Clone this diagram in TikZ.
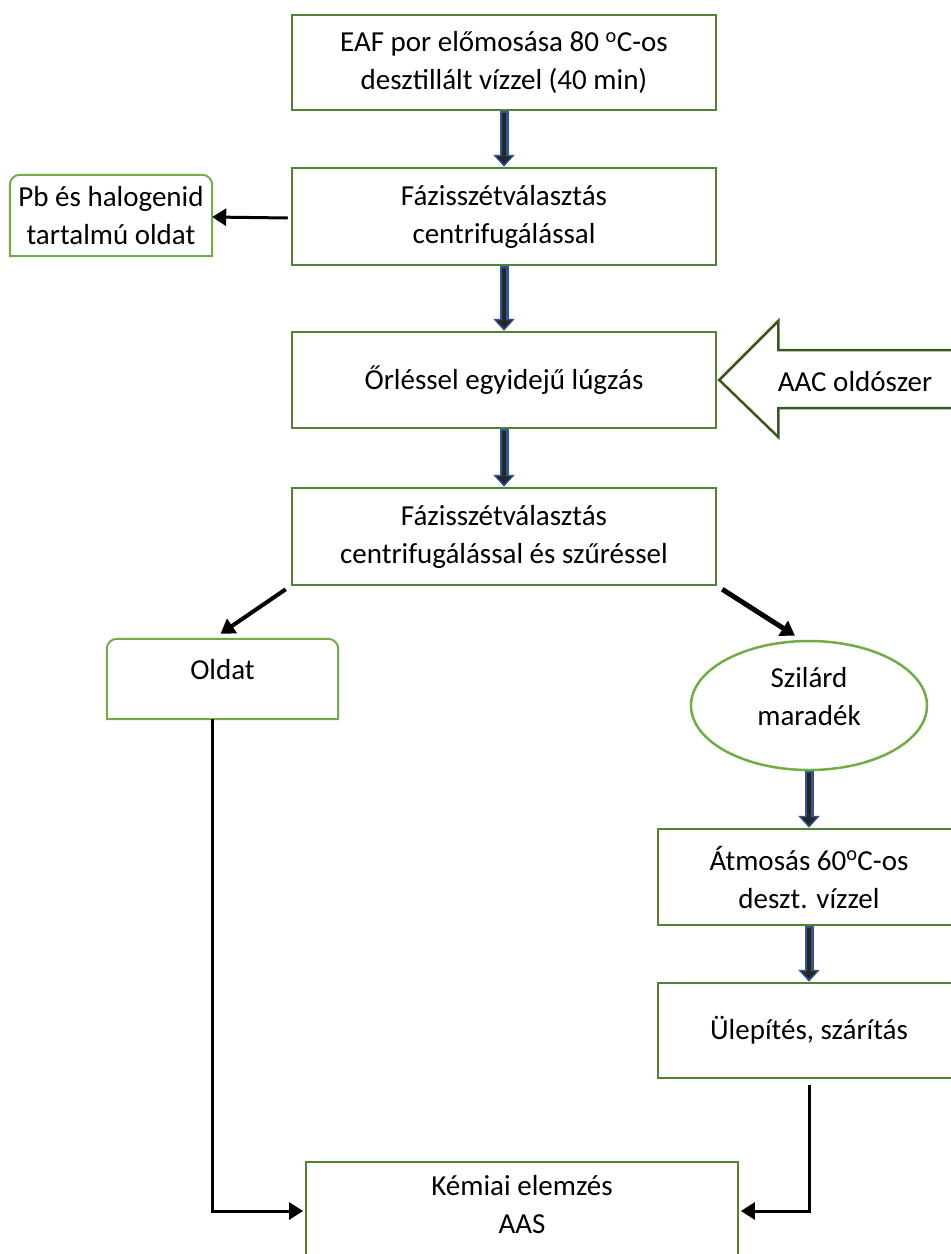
\documentclass[tikz,border=0pt]{standalone}
\usepackage{fontspec}
\setmainfont{Carlito}
\usetikzlibrary{arrows.meta,shapes.geometric}
\definecolor{boxgreen}{HTML}{548235}
\definecolor{lightgreen}{HTML}{70AD47}
\definecolor{darkgreen}{HTML}{385723}
\definecolor{arrowblue}{HTML}{2F5597}
\definecolor{arrowfill}{HTML}{262626}
\tikzset{
    stepbox/.style={draw=boxgreen, line width=2.5pt, align=center, inner sep=0pt},
    softbox/.style={align=center, inner sep=0pt},
    blockarrow/.style={draw=arrowfill, line width=4.5pt, shorten >=2.5pt, shorten <=1.5pt,
        -{Triangle[length=8pt,width=15pt]},
        preaction={draw=arrowblue, line width=9pt, shorten >=0pt, shorten <=0pt,
        -{Triangle[length=12pt,width=21pt]}}},
    blackarrow/.style={line width=3pt, -{Triangle[length=14pt,width=17pt]}}
}
\begin{document}
\begin{tikzpicture}[x=1pt,y=-1pt,font=\fontsize{29}{38}\selectfont]
    \useasboundingbox (0,0) rectangle (951,1254);
    \clip (0,0) rectangle (951,1254);
    %% main line
    \node[stepbox, minimum width=424pt, minimum height=95pt] (eaf) at (504,62.5)
        {EAF por előmosása 80 \textsuperscript{o}C-os\\desztillált vízzel (40 min)};
    \node[stepbox, minimum width=424pt, minimum height=97pt] (faz1) at (504,216.5)
        {Fázisszétválasztás\\centrifugálással};
    \node[stepbox, minimum width=424pt, minimum height=96pt] (orles) at (504,380)
        {Őrléssel egyidejű lúgzás};
    \node[stepbox, minimum width=424pt, minimum height=97pt] (faz2) at (504,536.5)
        {Fázisszétválasztás\\centrifugálással és szűréssel};
    %% side products
    \node[softbox, minimum width=202pt, minimum height=81pt] (pb) at (111,215.5)
        {Pb és halogenid\\tartalmú oldat};
    \node[softbox, minimum width=231pt, minimum height=80pt, text depth=20pt] (oldat) at (222.5,679)
        {Oldat};
    \foreach \n in {pb,oldat}
        \draw[lightgreen, line width=2pt] (\n.south west) [rounded corners=10pt] -- (\n.north west)
            -- (\n.north east) [sharp corners] -- (\n.south east) -- cycle;
    \node[ellipse, draw=lightgreen, line width=2.5pt, align=center, inner sep=0pt, text depth=18pt,
        minimum width=236pt, minimum height=129pt] (szil) at (809,705.5) {Szilárd\\maradék};
    \node[stepbox, minimum width=302pt, minimum height=96pt] (atm) at (809,877)
        {Átmosás 60\textsuperscript{o}C-os\\deszt. vízzel};
    \node[stepbox, minimum width=302pt, minimum height=95pt] (ulep) at (809,1030.5)
        {Ülepítés, szárítás};
    \node[stepbox, line width=1.8pt, minimum width=432pt, minimum height=98pt, text depth=14pt] (kem) at (522,1211)
        {Kémiai elemzés\\AAS};
    %% solvent
    \draw[darkgreen, line width=2.5pt, line join=miter] ([xshift=2pt]orles.east) -- ++(59,-59) -- ++(0,29)
        -- ++(200,0) -- ++(0,58) -- ++(-200,0) -- ++(0,29) -- cycle;
    \node (aac) at (855,382) {AAC oldószer};
    %% arrows
    \foreach \a/\b in {eaf/faz1,faz1/orles,orles/faz2,szil/atm,atm/ulep}
        \draw[blockarrow] (\a.south) -- (\b.north);
    \draw[blackarrow] ([yshift=-1.5pt]faz1.west) ++(-3,0) -- ([yshift=-1.5pt]pb.east);
    \draw[blackarrow, line width=4pt] ([shift={(-5,3)}]faz2.south west) -- ([shift={(-2,-5)}]oldat.north);
    \draw[blackarrow, line width=5pt] ([shift={(5,3)}]faz2.south east) -- ([shift={(-14,-4)}]szil.north);
    \draw[blackarrow, shorten >=2pt] ([xshift=-10pt]oldat.south) |- (kem.west);
    \draw[blackarrow, shorten >=2pt, shorten <=6pt] (ulep.south) |- (kem.east);
\end{tikzpicture}
\end{document}
